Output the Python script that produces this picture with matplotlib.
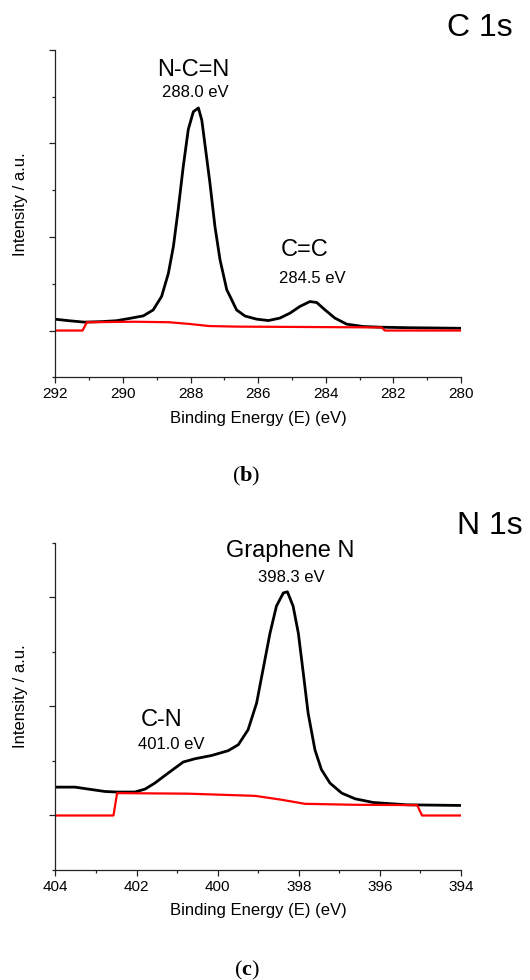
import matplotlib
matplotlib.use('Agg')
import matplotlib.pyplot as plt
from matplotlib.ticker import MultipleLocator

plt.rcParams['font.family'] = ['Liberation Sans', 'DejaVu Sans']
plt.rcParams['mathtext.fontset'] = 'custom'
plt.rcParams['mathtext.bf'] = 'Liberation Serif:bold'
plt.rcParams['mathtext.rm'] = 'Liberation Serif'

# C 1s spectrum (black) and background (red)
c_be = [292.0, 291.6, 291.15, 290.65, 290.2, 289.8, 289.4, 289.11, 288.86,
        288.66, 288.51, 288.37, 288.22, 288.07, 287.92, 287.77, 287.67, 287.58,
        287.43, 287.28, 287.13, 286.93, 286.84, 286.64, 286.39, 286.05, 285.7,
        285.36, 285.06, 284.77, 284.47, 284.27, 284.02, 283.73, 283.38, 282.89,
        282.4, 281.5, 280.7, 280.0]
c_int = [0.121, 0.105, 0.090, 0.095, 0.105, 0.13, 0.157, 0.22, 0.364,
         0.61, 0.90, 1.29, 1.75, 2.15, 2.34, 2.38, 2.25, 2.0,
         1.58, 1.11, 0.756, 0.435, 0.37, 0.22, 0.155, 0.122, 0.107,
         0.133, 0.186, 0.257, 0.31, 0.30, 0.22, 0.133, 0.068, 0.043,
         0.036, 0.03, 0.027, 0.024]
c_bg_be = [292.0, 291.2, 291.07, 289.65, 288.65, 288.05, 287.45, 286.65,
           284.65, 282.35, 282.25, 280.0]
c_bg = [0.0, 0.0, 0.089, 0.094, 0.089, 0.071, 0.048, 0.042,
        0.038, 0.033, 0.0, 0.0]

# N 1s spectrum (black) and background (red)
n_be = [404.0, 403.52, 403.19, 402.78, 402.49, 402.04, 401.79, 401.55, 401.22,
        400.85, 400.56, 400.15, 399.74, 399.49, 399.25, 399.04, 398.88, 398.71,
        398.55, 398.38, 398.28, 398.14, 398.01, 397.89, 397.77, 397.6, 397.44,
        397.23, 396.94, 396.61, 396.16, 395.34, 394.0]
n_int = [0.26, 0.26, 0.242, 0.22, 0.215, 0.215, 0.242, 0.297, 0.389,
         0.49, 0.52, 0.55, 0.594, 0.649, 0.786, 1.03, 1.34, 1.67,
         1.92, 2.04, 2.05, 1.92, 1.67, 1.31, 0.94, 0.60, 0.42,
         0.297, 0.205, 0.153, 0.119, 0.098, 0.092]
n_bg_be = [404.0, 402.57, 402.48, 400.73, 399.08, 398.42, 397.85,
           396.6, 395.08, 394.96, 394.0]
n_bg = [0.0, 0.0, 0.205, 0.2, 0.18, 0.144, 0.107,
        0.098, 0.095, 0.0, 0.0]

fig = plt.figure(figsize=(5.3, 9.8), dpi=100)
ax1 = fig.add_axes([0.1047, 0.615, 0.765, 0.334])
ax2 = fig.add_axes([0.1047, 0.1122, 0.765, 0.334])


def style(ax, xmin, xmax, ymax):
    ax.set_xlim(xmin, xmax)
    ax.set_ylim(-0.5, ymax)
    ax.spines['top'].set_visible(False)
    ax.spines['right'].set_visible(False)
    for s in ['left', 'bottom']:
        ax.spines[s].set_linewidth(0.9)
        ax.spines[s].set_color('#222222')
    ax.xaxis.set_major_locator(MultipleLocator(2))
    ax.xaxis.set_minor_locator(MultipleLocator(1))
    ax.yaxis.set_major_locator(MultipleLocator(1))
    ax.yaxis.set_minor_locator(MultipleLocator(0.5))
    ax.tick_params(which='major', direction='out', length=4.5, width=0.9,
                   labelsize=11, pad=2.5, color='#222222')
    ax.tick_params(which='minor', direction='out', length=2.5, width=0.9,
                   color='#222222')
    ax.set_yticklabels([])
    ax.set_xlabel('Binding Energy (E) (eV)', fontsize=12, va='center')
    ax.xaxis.set_label_coords(0.5, -0.125)
    ax.set_ylabel('Intensity / a.u.', fontsize=12, va='center')
    ax.yaxis.set_label_coords(-0.0875, 0.53)


# (b) C 1s
ax1.plot(c_be, c_int, color='black', lw=2.0, solid_joinstyle='round')
ax1.plot(c_bg_be, c_bg, color='red', lw=1.6)
style(ax1, 292, 280, 3.0)
ax1.text(287.93, 2.79, 'N-C=N', fontsize=17, ha='center', va='center')
ax1.text(287.86, 2.54, '288.0 eV', fontsize=12, ha='center', va='center')
ax1.text(284.62, 0.857, 'C=C', fontsize=17, ha='center', va='center')
ax1.text(284.39, 0.554, '284.5 eV', fontsize=12, ha='center', va='center')
ax1.text(1.047, 1.066, 'C 1s', fontsize=23, ha='center', va='center',
         transform=ax1.transAxes)

# (c) N 1s
ax2.plot(n_be, n_int, color='black', lw=2.0, solid_joinstyle='round')
ax2.plot(n_bg_be, n_bg, color='red', lw=1.6)
style(ax2, 404, 394, 2.5)
ax2.text(398.22, 2.42, 'Graphene N', fontsize=17, ha='center', va='center')
ax2.text(398.19, 2.18, '398.3 eV', fontsize=12, ha='center', va='center')
ax2.text(401.38, 0.878, 'C-N', fontsize=17, ha='center', va='center')
ax2.text(401.15, 0.654, '401.0 eV', fontsize=12, ha='center', va='center')
ax2.text(1.07, 1.05, 'N 1s', fontsize=23, ha='center', va='center',
         transform=ax2.transAxes)

# panel letters
fig.text(0.465, 0.514, r'($\mathbf{b}$)', fontsize=16, ha='center', va='center',
         family='Liberation Serif')
fig.text(0.466, 0.0102, r'($\mathbf{c}$)', fontsize=16, ha='center', va='center',
         family='Liberation Serif')

fig.savefig('out.png', dpi=100)
